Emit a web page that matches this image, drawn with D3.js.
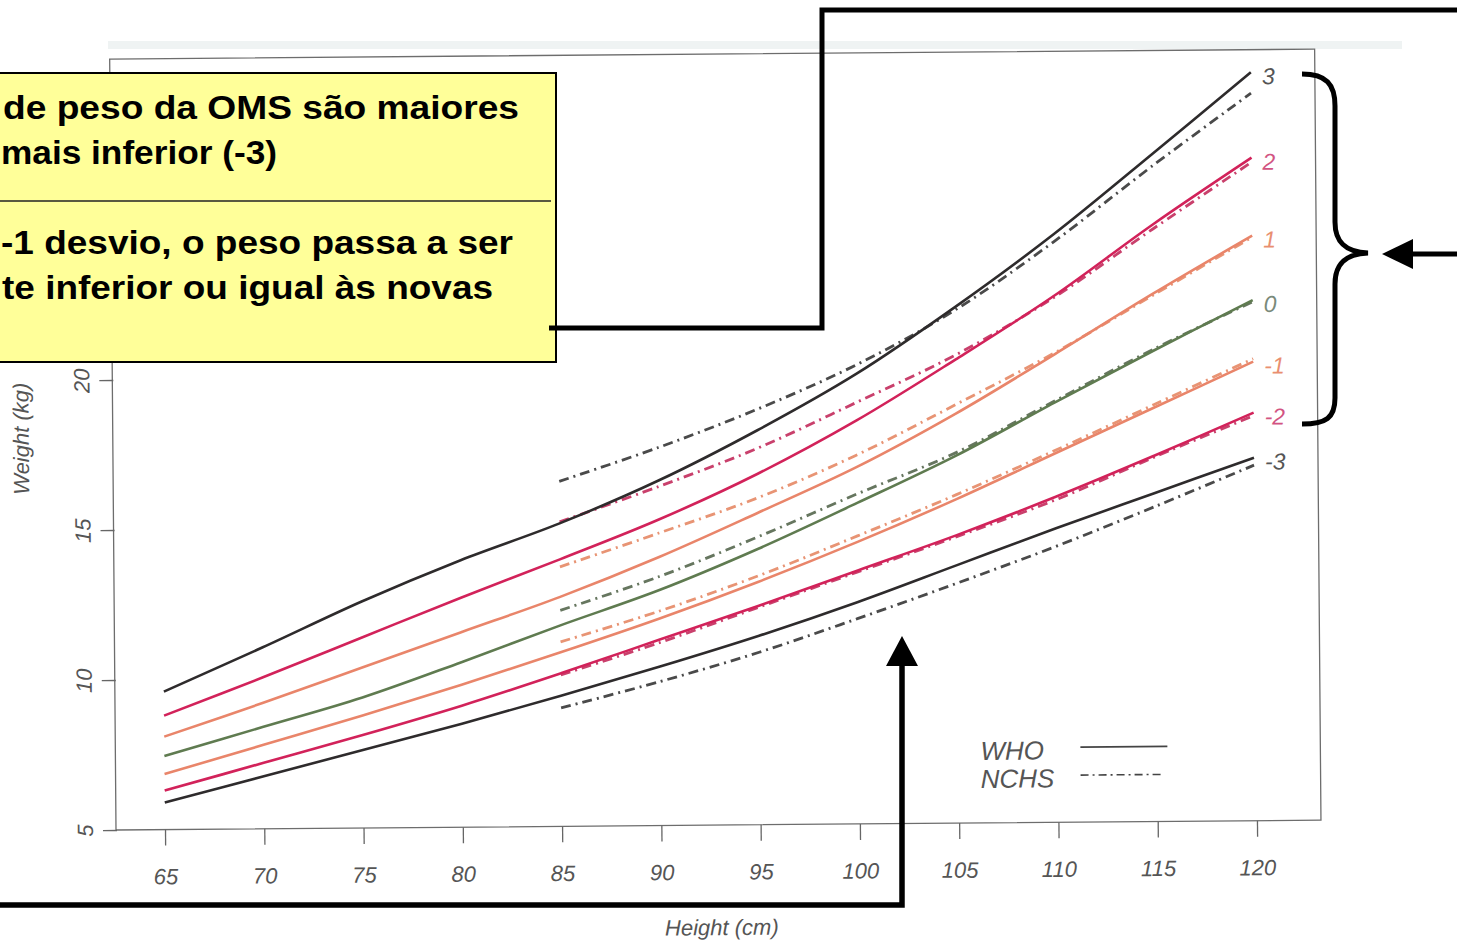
<!DOCTYPE html>
<html>
<head>
<meta charset="utf-8">
<script src="https://cdn.jsdelivr.net/npm/d3@7"></script>
<style>
  body { margin: 0; background: #fff; }
  svg { display: block; }
  text { font-family: "Liberation Sans", Arial, sans-serif; }
</style>
</head>
<body>
<script>
// heights (cm) at which the curves were read
const heightsWho = [65, 70, 75, 80, 85, 90, 95, 100, 105, 110, 115, 120];
const heightsNchs = [85, 90, 95, 100, 105, 110, 115, 120];

// WHO weight-for-height z-score curves (kg)
const whoSd3  = [9.6, 11.05, 12.55, 13.9, 15.1, 16.5, 18.15, 20.0, 22.2, 24.6, 27.25, 29.95];
const whoSd2  = [8.8, 10.05, 11.35, 12.65, 13.9, 15.2, 16.7, 18.45, 20.45, 22.55, 24.9, 27.1];
const whoSd1  = [8.1, 9.2, 10.35, 11.5, 12.65, 13.95, 15.4, 16.9, 18.65, 20.6, 22.6, 24.5];
const whoSd0  = [7.45, 8.4, 9.35, 10.5, 11.7, 12.85, 14.2, 15.7, 17.25, 19.0, 20.7, 22.35];
const whoSdM1 = [6.85, 7.8, 8.75, 9.75, 10.8, 11.9, 13.1, 14.4, 15.8, 17.3, 18.8, 20.3];
const whoSdM2 = [6.3, 7.2, 8.1, 9.05, 10.1, 11.2, 12.3, 13.45, 14.6, 15.85, 17.2, 18.6];
const whoSdM3 = [5.9, 6.75, 7.6, 8.45, 9.35, 10.3, 11.3, 12.4, 13.6, 14.8, 15.95, 17.1];

// NCHS curves (kg), from 85 cm
const nchsSd3  = [16.5, 17.6, 18.85, 20.3, 22.1, 24.35, 26.85, 29.25];
const nchsSd2  = [15.15, 16.3, 17.55, 19.05, 20.6, 22.5, 24.75, 26.95];
const nchsSd1  = [13.65, 14.75, 15.9, 17.3, 18.95, 20.65, 22.55, 24.45];
const nchsSd0  = [12.2, 13.3, 14.6, 16.0, 17.35, 19.05, 20.75, 22.3];
const nchsSdM1 = [11.15, 12.15, 13.3, 14.6, 15.95, 17.4, 18.9, 20.4];
const nchsSdM2 = [10.05, 11.1, 12.25, 13.4, 14.55, 15.75, 17.15, 18.5];
const nchsSdM3 = [8.95, 9.8, 10.75, 11.85, 13.0, 14.2, 15.5, 16.85];

const sdLabels = ["3", "2", "1", "0", "-1", "-2", "-3"];
const xTicks = [65, 70, 75, 80, 85, 90, 95, 100, 105, 110, 115, 120];
const yTicks = [5, 10, 15, 20];
const legendNames = ["WHO", "NCHS"];

const noteLines = [
  "de peso da OMS são maiores",
  "mais inferior (-3)",
  "-1 desvio, o peso passa a ser",
  "te inferior ou igual às novas"
];

let w = 1457;
let h = 941;

let whoSeries = [whoSd3, whoSd2, whoSd1, whoSd0, whoSdM1, whoSdM2, whoSdM3];
let nchsSeries = [nchsSd3, nchsSd2, nchsSd1, nchsSd0, nchsSdM1, nchsSdM2, nchsSdM3];
let lineColors = ["#2e2b2c", "#d2225a", "#e9856a", "#5f7b50", "#e9856a", "#d2225a", "#2e2b2c"];
let dashColors = ["#4a4a4a", "#c9406c", "#e89474", "#66765f", "#e89474", "#c9406c", "#4a4a4a"];
let labelColors = ["#555", "#d25482", "#e98f70", "#7a8a7a", "#e98f70", "#d25482", "#555"];

let xScale = d3.scaleLinear().domain([65, 120]).range([165, 1257]);
let yScale = d3.scaleLinear().domain([5, 20]).range([830, 380]);

let svg = d3.select("body").append("svg")
  .attr("width", w)
  .attr("height", h);

// faint scan edge at top
svg.append("rect")
  .attr("x", 108).attr("y", 41).attr("width", 1294).attr("height", 8)
  .attr("fill", "#eff3f3");

// scanned chart is slightly tilted
let chart = svg.append("g").attr("transform", "rotate(-0.47,117,830)");

chart.append("rect")
  .attr("x", 116).attr("y", 59)
  .attr("width", 1321 - 116).attr("height", 830 - 59)
  .attr("fill", "none")
  .attr("stroke", "#6d6d6d")
  .attr("stroke-width", 1.3);

let line = d3.line()
  .x(d => xScale(d[0]))
  .y(d => yScale(d[1]))
  .curve(d3.curveCatmullRom.alpha(0.5));

// NCHS dash-dot curves
chart.selectAll(".nchs")
  .data(nchsSeries)
  .enter()
  .append("path")
  .attr("class", "nchs")
  .attr("d", s => line(s.map((v, i) => [heightsNchs[i], v])))
  .attr("fill", "none")
  .attr("stroke", (s, i) => dashColors[i])
  .attr("stroke-width", 2.8)
  .attr("stroke-dasharray", "10,5,2,5");

// WHO solid curves
chart.selectAll(".who")
  .data(whoSeries)
  .enter()
  .append("path")
  .attr("class", "who")
  .attr("d", s => line(s.map((v, i) => [heightsWho[i], v])))
  .attr("fill", "none")
  .attr("stroke", (s, i) => lineColors[i])
  .attr("stroke-width", 2.6);

chart.selectAll(".sdlabel")
  .data(whoSeries)
  .enter()
  .append("text")
  .attr("class", "sdlabel")
  .attr("x", xScale(120) + 11)
  .attr("y", s => yScale(s[s.length - 1]) + 4)
  .attr("dy", "0.35em")
  .style("font-size", "23px")
  .style("font-style", "italic")
  .attr("fill", (s, i) => labelColors[i])
  .text((s, i) => sdLabels[i]);

// axes
let xAxis = d3.axisBottom(xScale).tickValues(xTicks).tickSize(16).tickPadding(23);
let yAxis = d3.axisLeft(yScale).tickValues(yTicks).tickSize(14);

let gx = chart.append("g")
  .attr("transform", "translate(0,830)")
  .call(xAxis);
let gy = chart.append("g")
  .attr("transform", "translate(117,0)")
  .call(yAxis);

[gx, gy].forEach(g => {
  g.select(".domain").remove();
  g.selectAll("line").attr("stroke", "#666").attr("stroke-width", 1.3);
  g.selectAll("text")
    .attr("fill", "#555")
    .style("font-size", "22px")
    .style("font-style", "italic")
    .style("font-family", "'Liberation Sans', Arial, sans-serif");
});
gy.selectAll("text")
  .attr("x", 0).attr("y", 0).attr("dy", 0)
  .attr("text-anchor", "middle")
  .attr("transform", "translate(-24,0) rotate(-90)");

chart.append("text")
  .attr("transform", "translate(32,438) rotate(-90)")
  .attr("text-anchor", "middle")
  .attr("fill", "#555")
  .style("font-size", "22px")
  .style("font-style", "italic")
  .text("Weight (kg)");

chart.append("text")
  .attr("x", 721).attr("y", 940)
  .attr("text-anchor", "middle")
  .attr("fill", "#555")
  .style("font-size", "22px")
  .style("font-style", "italic")
  .text("Height (cm)");

// legend
let legend = chart.selectAll(".legend")
  .data(legendNames)
  .enter()
  .append("g")
  .attr("class", "legend")
  .attr("transform", (d, i) => "translate(981," + (767 + i * 28) + ")");
legend.append("text")
  .attr("fill", "#555")
  .style("font-size", "26px")
  .style("font-style", "italic")
  .text(d => d);
legend.append("line")
  .attr("x1", 100).attr("x2", (d, i) => i ? 183 : 187)
  .attr("y1", -12).attr("y2", -12)
  .attr("stroke", "#444")
  .attr("stroke-width", 1.6)
  .attr("stroke-dasharray", (d, i) => i ? "8,4,2,4" : null);

// ---- overlay annotations ----
let note = svg.append("g");
note.append("rect")
  .attr("x", -5).attr("y", 73)
  .attr("width", 561).attr("height", 289)
  .attr("fill", "#ffff99")
  .attr("stroke", "#000")
  .attr("stroke-width", 2);
note.append("line")
  .attr("x1", 0).attr("x2", 551)
  .attr("y1", 201).attr("y2", 201)
  .attr("stroke", "#222")
  .attr("stroke-width", 1.3);

let noteX = [3, 1, 1, 2];
let noteY = [119, 164, 254, 299];
let noteLen = [516, 276, 512, 491];
note.selectAll(".noteline")
  .data(noteLines)
  .enter()
  .append("text")
  .attr("class", "noteline")
  .attr("x", (d, i) => noteX[i])
  .attr("y", (d, i) => noteY[i])
  .attr("textLength", (d, i) => noteLen[i])
  .attr("lengthAdjust", "spacingAndGlyphs")
  .style("font-size", "34px")
  .style("font-weight", "bold")
  .attr("fill", "#000")
  .text(d => d);

note.append("path")
  .attr("d", "M549,328 L822,328 L822,10 L1462,10")
  .attr("fill", "none")
  .attr("stroke", "#000")
  .attr("stroke-width", 5);

note.append("path")
  .attr("d", "M-5,905 L902,905 L902,662")
  .attr("fill", "none")
  .attr("stroke", "#000")
  .attr("stroke-width", 5.5);
note.append("path")
  .attr("d", "M886,666 L918,666 L902,636 Z")
  .attr("fill", "#000");

note.append("path")
  .attr("d", "M1302,74 C1326,74 1335,84 1335,106 L1335,222 C1335,242 1345,252 1368,253 C1345,254 1335,264 1335,284 L1335,398 C1335,418 1326,424 1302,424")
  .attr("fill", "none")
  .attr("stroke", "#000")
  .attr("stroke-width", 5);

note.append("path")
  .attr("d", "M1460,254 L1410,254")
  .attr("fill", "none")
  .attr("stroke", "#000")
  .attr("stroke-width", 5);
note.append("path")
  .attr("d", "M1413,239 L1413,269 L1382,254 Z")
  .attr("fill", "#000");
</script>
</body>
</html>
